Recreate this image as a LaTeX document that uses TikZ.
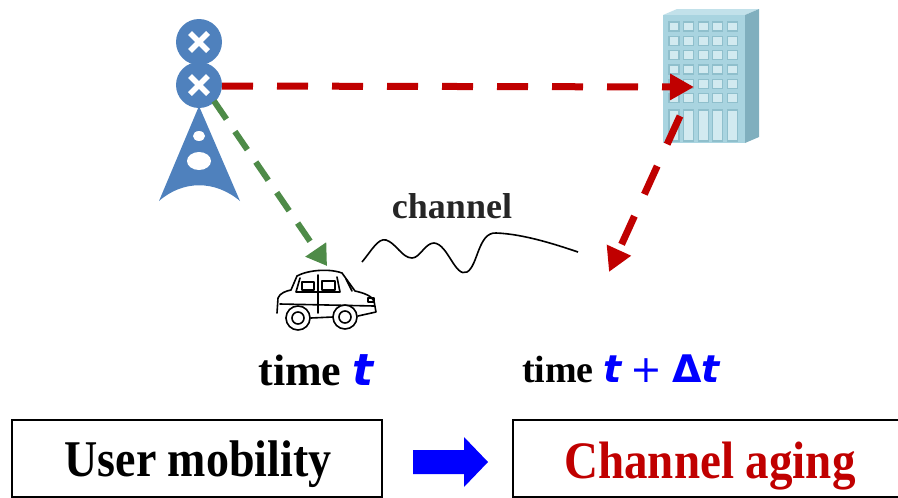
\documentclass[tikz,border=0pt]{standalone}
\usepackage{fontspec}
\setmainfont{Liberation Serif}
\newfontfamily\symsans{DejaVu Sans}
\usetikzlibrary{arrows.meta}
\definecolor{towerblue}{HTML}{4F81BD}
\definecolor{linkred}{HTML}{C00000}
\definecolor{linkgreen}{HTML}{4E8B48}
\definecolor{bfront}{HTML}{A9D4E0}
\definecolor{bside}{HTML}{80AFBE}
\definecolor{btop}{HTML}{C2E1EA}
\definecolor{bwin}{HTML}{D2EAF0}
\definecolor{bwinedge}{HTML}{8FBFCC}
\definecolor{agingred}{HTML}{C00000}
\newcommand{\bt}{{\symsans\bfseries\itshape t}}
\newcommand{\tallbox}[1]{\scalebox{1}[1.12]{#1}}
\begin{document}
\begin{tikzpicture}[x=1pt,y=-1pt,
  redlink/.style={draw=linkred,line width=7pt,dash pattern=on 31pt off 24pt,
    -{Triangle[length=24pt,width=25pt]}},
  greenlink/.style={draw=linkgreen,line width=6pt,dash pattern=on 22pt off 15pt,
    -{Triangle[length=20pt,width=24pt]}},
  labelbox/.style={draw=black,line width=2pt,minimum height=77pt,inner sep=0pt},
  xmark/.style={draw=white,line width=5.5pt},
  win/.style={fill=bwin,draw=bwinedge,line width=1.2pt}]
\useasboundingbox (0,0) rectangle (898,498);

% ---- base station ----
\fill[towerblue] (199,106) -- (240,201) .. controls (215,180) and (183,180) .. (159,201) -- cycle;
\fill[white] (199,136) ellipse [x radius=6,y radius=5];
\fill[white] (199,161) ellipse [x radius=12,y radius=9];
\fill[towerblue] (199,42) circle [radius=23];
\fill[towerblue] (199,85) circle [radius=23];
\draw[xmark] (190,33) -- (208,51) (208,33) -- (190,51);
\draw[xmark] (190,76) -- (208,94) (208,76) -- (190,94);
\coordinate (bsR) at (222,86);
\coordinate (bsD) at (214,101);

% ---- building ----
\fill[btop] (663,15) -- (677,9) -- (759,9) -- (745,15) -- cycle;
\fill[bside] (745,15) -- (759,9) -- (759,137) -- (745,143) -- cycle;
\fill[bfront] (663,15) rectangle (745,143);
\foreach \i in {0,...,4} {
  \foreach \j in {0,...,5}
    \draw[win] ({669+14.6*\i},{22+14.3*\j}) rectangle ++(10,9);
  \draw[win] ({669+14.6*\i},110) rectangle ++(10,31);
}
\coordinate (bldIn) at (694,87);
\coordinate (bldOut) at (680,116);

% ---- car ----
\begin{scope}[line width=1.6pt,line join=round,line cap=round]
  \draw[fill=white] (277,313) -- (278,298) .. controls (280,293) and (286,291) .. (291,290)
    -- (297,276) .. controls (310,269) and (332,269) .. (342,273)
    -- (355,291) .. controls (364,293) and (372,296) .. (374,301)
    -- (376,312) -- (358,316) (333,317) -- (311,318) (286,318) -- cycle;
  \draw (300,278) -- (296,292) -- (340,292) -- (337,277);
  \draw (318,275) -- (318,313);
  \draw (302,282) rectangle (314,290);
  \draw (322,281) rectangle (335,290);
  \draw (346,279) -- (352,291);
  \draw (280,304) -- (374,306);
  \draw[fill=white] (298,318) circle [radius=12];
  \draw (298,318) circle [radius=6];
  \draw[fill=white] (345,317) circle [radius=12];
  \draw (345,317) circle [radius=6];
  \draw (368,298) rectangle (374,302);
\end{scope}
\coordinate (carTop) at (327,266);
\coordinate (carNext) at (609,272);

% ---- links ----
\draw[redlink] (bsR) -- (bldIn);
\draw[redlink] (bldOut) -- (carNext);
\draw[greenlink] (bsD) -- (carTop);

% ---- channel ----
\draw[line width=1.6pt] (362,262) .. controls (372,250) and (378,238) .. (386,240)
  .. controls (396,243) and (402,258) .. (412,258)
  .. controls (420,258) and (425,243) .. (434,243)
  .. controls (448,244) and (455,278) .. (467,272)
  .. controls (478,266) and (478,232) .. (496,233)
  .. controls (525,234) and (560,246) .. (578,252);
\node[font=\fontsize{36}{40}\selectfont\bfseries,text=black!85] (chan) at (452,206) {channel};

% ---- time labels ----
\node[font=\fontsize{44}{48}\selectfont\bfseries] (tnow) at (316,370) {time \textcolor{blue}{\bt}};
\node[font=\fontsize{38}{42}\selectfont\bfseries] (tnext) at (621,369)
  {time \textcolor{blue}{\bt\ {\symsans\mdseries +} {\symsans\bfseries Δ}\bt}};

% ---- bottom row ----
\node[labelbox,minimum width=370pt] (mob) at (197,458.5) {};
\node[font=\fontsize{46}{50}\selectfont\bfseries] (mobtext) at (198,464) {\tallbox{User mobility}};
\node[labelbox,minimum width=400pt,anchor=west] (agebox) at (512,458.5) {};
\node[font=\fontsize{47}{50}\selectfont\bfseries,text=agingred] (age) at (710,466) {\tallbox{Channel aging}};
\fill[blue] (413,450) -- (464,450) -- (464,437) -- (488,462) -- (464,487) -- (464,474) -- (413,474) -- cycle;
\end{tikzpicture}
\end{document}
